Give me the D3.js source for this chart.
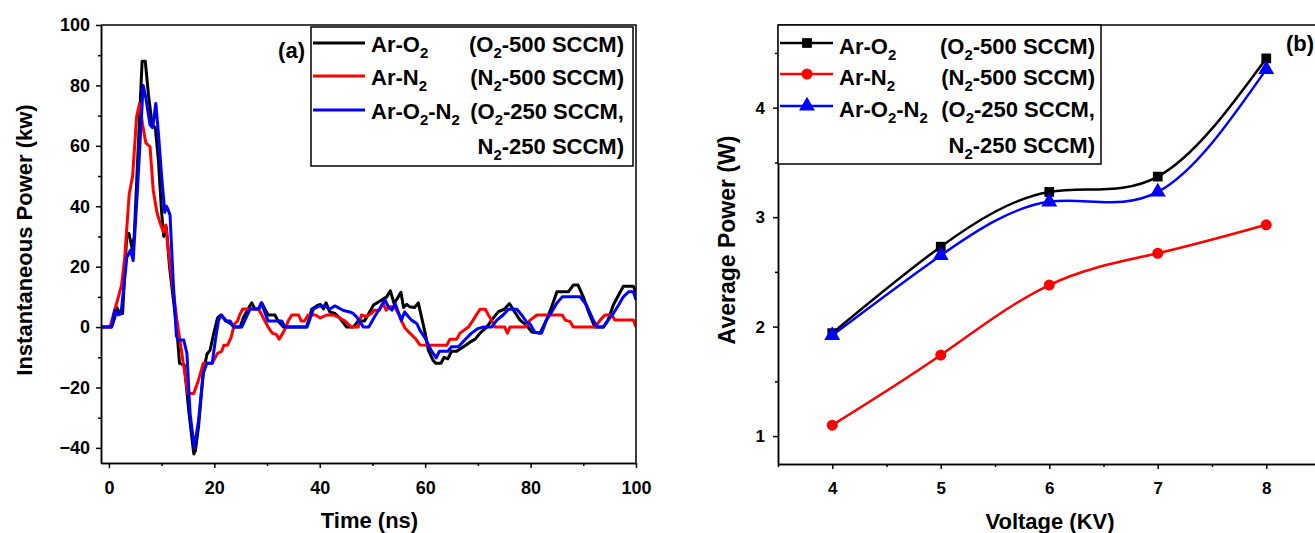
<!DOCTYPE html>
<html>
<head>
<meta charset="utf-8">
<script src="https://cdn.jsdelivr.net/npm/d3@7"></script>
<style>
  body { margin: 0; background: #fff; }
  svg text { font-family: "Liberation Sans", Arial, sans-serif; font-weight: bold; fill: #000; }
</style>
</head>
<body>
<svg id="chart" width="1315" height="533"></svg>
<script>
// ---- data ----
// (a) instantaneous power, [time ns, power kW]
var arO2 = [[-1.5,0],[0.5,0],[1.1,3],[1.5,6.5],[2.1,4.3],[2.6,4.5],[3.4,31],[3.8,31],[4.4,26],[4.8,30],
  [6.3,88],[6.9,88],[7.5,77],[8.2,67],[8.8,66],[9.4,55],[10.0,38],[10.4,30],[10.9,33],[11.5,20],
  [12.9,-1],[13.4,-12],[14.3,-12.5],[15.2,-28.6],[16.1,-42],[16.4,-41],[17.0,-33],[17.9,-15],[18.6,-9],
  [19.2,-7.6],[19.9,-2],[20.6,3],[21.2,4],[21.8,3],[22.3,2],[23.2,1],[24.0,0],[24.9,0],[25.5,3],[26.4,6],
  [27.1,8],[27.7,6],[28.4,6],[29.0,8],[30.2,4],[31.5,4],[32.1,2],[33.1,0],[37.5,0],[38.5,6],[39.4,7],
  [40.1,7.5],[40.7,6],[41.2,8],[41.9,5],[42.9,4.5],[43.8,3],[45.1,0],[46.4,0],[47.3,2],[48.5,2],[50.2,7.3],
  [51.8,9],[52.7,10],[53.4,12],[54.1,7.8],[54.9,10],[55.4,11.5],[55.9,6.5],[56.5,7.5],[57.1,6.7],[58.0,6.5],
  [58.7,8],[59.3,3.4],[60.0,-2],[60.6,-7.6],[61.5,-11],[62.0,-12],[63.0,-12],[63.6,-10],[64.3,-10.5],
  [65.0,-8],[66.0,-8],[67.7,-6],[68.5,-5],[69.5,-4],[70.4,-2],[71.7,0],[72.6,2.3],[73.9,5.1],[75.0,5.9],
  [76.0,7.8],[76.8,5.5],[78.0,2.3],[79.3,0.5],[80.2,-1.6],[81.8,-2],[83.0,2.3],[84.0,6.7],[85.0,11.7],
  [87.2,11.7],[88.1,13.9],[89.0,13.9],[90.0,10],[91.0,5],[92.2,0],[93.8,0],[94.7,2.3],[95.7,7.3],
  [96.7,10.6],[97.6,13.5],[99.5,13.5],[100,11.5]];

var arN2 = [[-1.5,0],[0.2,0],[0.9,4.4],[1.8,10],[2.4,13.9],[3.0,23],[3.85,44],[4.5,50],[5.25,69.6],[5.8,74],
  [6.4,67],[7.0,61],[7.8,59.7],[8.4,45.4],[9.1,38],[9.7,34.5],[10.3,31.6],[10.8,33.8],[11.3,25],[12.9,2.3],
  [14.2,-13],[15.0,-22],[16.1,-22],[17.0,-17.5],[17.9,-12],[19.6,-12],[20.6,-8.7],[21.4,-8],[21.8,-6],
  [22.5,-6],[23.2,-3.3],[23.8,1],[24.4,2],[24.8,4],[25.4,6],[28.4,6],[30.2,0],[31.0,-2],[31.8,-2.5],
  [32.3,-4],[33.0,-2],[33.6,0],[34.0,2],[34.7,4],[36.0,4],[36.5,2],[37.1,2],[37.8,4],[39.2,4],[40.1,3],
  [41.3,4],[42.6,4],[43.8,3],[44.8,2],[46.0,0],[47.3,0],[47.9,4],[48.8,3.5],[49.8,4.5],[50.4,5.6],
  [51.3,5.6],[52.0,7.8],[52.6,5.6],[53.2,6.7],[54.2,6.7],[54.9,4.5],[55.5,2],[56.2,-0.4],[57.1,-2],
  [58.1,-3.7],[59.0,-5.9],[64.1,-6],[64.7,-4],[66.0,-4],[66.6,-2],[68.2,0],[69.1,2.3],[69.7,4],[70.4,5.9],
  [71.4,5.9],[72.0,4],[72.6,2.3],[73.2,0],[75.1,0],[75.6,-2],[76.1,0],[79.0,0],[79.9,2.3],[81.2,4],
  [86.0,4],[86.6,2.3],[87.5,1.8],[88.1,0],[92.2,0],[93.2,2.3],[94.1,4],[95.4,4],[96.0,2.3],[99.5,2.3],[100,0]];

var arO2N2 = [[-1.5,0],[0.5,0],[1.1,5.6],[1.7,4],[2.3,4.5],[3.4,23],[4.1,25.5],[4.6,22],[5.4,45],[6.5,80],
  [7.0,76],[7.8,67],[8.3,66],[8.9,74],[9.4,64],[10.0,50],[10.6,38],[10.9,40],[11.2,39],[11.6,37],[12.2,15],
  [12.8,-3],[13.2,-4.3],[14.2,-4.3],[14.8,-8.7],[15.4,-28.6],[16.2,-40],[17.0,-31],[17.9,-15.3],[18.6,-12],
  [19.6,-12],[20.2,-4.3],[20.8,2.3],[21.4,4],[22.1,2],[23.0,2],[23.6,0],[25.2,0],[26.8,6],[28.4,6],[28.9,8],
  [30.2,2],[32.8,2],[33.4,0],[37.6,0],[38.8,6],[40.0,7],[41.0,7],[41.9,6],[42.9,7],[44.5,5.5],[45.7,5],
  [46.3,4.5],[47.0,3.4],[48.3,0],[49.3,0],[50.4,3.4],[51.8,7.3],[52.4,9],[53.0,6.7],[53.7,5.6],[54.3,7.8],
  [54.9,5],[55.5,2.3],[56.1,5],[56.8,3.5],[57.4,2.3],[58.4,1.2],[59.0,-1],[60.0,-3.7],[61.1,-7.6],
  [62.1,-10.2],[62.7,-8],[64.3,-8],[65.0,-6.5],[66.3,-6.5],[67.5,-4.3],[68.8,-2],[70.0,-0.5],[71.0,0],
  [72.6,0],[73.6,2.3],[74.8,4],[75.8,5.9],[77.4,5.9],[78.3,4],[79.2,1.8],[79.9,1],[80.8,-1.6],[81.5,-2],
  [82.1,-2],[83.0,2.3],[84.0,5],[85.0,8],[86.0,10],[89.4,10],[90.6,7.3],[91.9,2.3],[92.6,0],[93.8,0],
  [94.7,2.3],[95.7,4.5],[96.7,7.3],[97.6,10],[98.6,11.7],[99.5,11.7],[100,9]];

// (b) average power vs voltage
var voltage = [4, 5, 6, 7, 8];
var avgArO2 = [1.94, 2.73, 3.23, 3.37, 4.45];
var avgArN2 = [1.10, 1.74, 2.38, 2.67, 2.93];
var avgArO2N2 = [1.92, 2.65, 3.14, 3.23, 4.35];

var timeTicks = [0, 20, 40, 60, 80, 100];
var timeMinor = [10, 30, 50, 70, 90];
var powerTicks = [-40, -20, 0, 20, 40, 60, 80, 100];
var powerMinor = [-30, -10, 10, 30, 50, 70, 90];
var voltTicks = [4, 5, 6, 7, 8];
var voltMinor = [3.5, 4.5, 5.5, 6.5, 7.5];
var avgTicks = [1, 2, 3, 4];
var avgMinor = [1.5, 2.5, 3.5, 4.5];

var names = ["Ar-O_2", "Ar-N_2", "Ar-O_2-N_2", ""];
var flows = ["(O_2-500 SCCM)", "(N_2-500 SCCM)", "(O_2-250 SCCM,", "N_2-250 SCCM)"];
var colors = ["#000000", "#ff0000", "#0000ff"];

var svg = d3.select("#chart");

// writes "X_2" style labels with subscripts
function richText(sel, str) {
  var parts = str.split(/_(\d)/);
  var shift = 0;
  parts.forEach(function(p, i) {
    if (p === "") return;
    var t = sel.append("tspan").text(p);
    if (i % 2 === 1) {
      t.attr("dy", 6).attr("font-size", "0.68em");
      shift = -6;
    } else if (shift) {
      t.attr("dy", shift);
      shift = 0;
    }
  });
}

function styleAxis(g, fs) {
  g.attr("font-family", null).attr("font-size", fs);
  g.select(".domain").attr("stroke", "#000").attr("stroke-width", 1.5);
  g.selectAll(".tick line").attr("stroke", "#000").attr("stroke-width", 1.5);
  g.selectAll(".tick text").attr("fill", "#000");
}

// ================= panel (a) =================
var ax = {left: 101, right: 636, top: 25, bottom: 463};
var x1 = d3.scaleLinear().domain([-1.5, 100]).range([ax.left, ax.right]);
var y1 = d3.scaleLinear().domain([-45, 100]).range([ax.bottom, ax.top]);

svg.append("clipPath").attr("id", "clipA").append("rect")
  .attr("x", ax.left).attr("y", ax.top).attr("width", ax.right - ax.left).attr("height", ax.bottom - ax.top);

var lineA = d3.line().x(function(d) { return x1(d[0]); }).y(function(d) { return y1(d[1]); });
var gA = svg.append("g").attr("clip-path", "url(#clipA)");
[arO2, arN2, arO2N2].forEach(function(s, i) {
  gA.append("path").datum(s)
    .attr("fill", "none").attr("stroke", colors[i]).attr("stroke-width", 3)
    .attr("stroke-linejoin", "round").attr("d", lineA);
});

svg.append("g").attr("transform", "translate(0," + ax.bottom + ")")
  .call(d3.axisBottom(x1).tickValues(timeMinor).tickSize(3).tickFormat("").tickSizeOuter(0))
  .call(styleAxis, 18);
svg.append("g").attr("transform", "translate(0," + ax.bottom + ")")
  .call(d3.axisBottom(x1).tickValues(timeTicks).tickSize(5).tickPadding(13).tickSizeOuter(0))
  .call(styleAxis, 18);
svg.append("g").attr("transform", "translate(" + ax.left + ",0)")
  .call(d3.axisLeft(y1).tickValues(powerMinor).tickSize(3).tickFormat("").tickSizeOuter(0))
  .call(styleAxis, 18);
svg.append("g").attr("transform", "translate(" + ax.left + ",0)")
  .call(d3.axisLeft(y1).tickValues(powerTicks).tickSize(5).tickPadding(6).tickSizeOuter(0))
  .call(styleAxis, 18);
// top and right frame
svg.append("path").attr("d", "M" + ax.left + "," + ax.top + "H" + ax.right + "V" + ax.bottom)
  .attr("fill", "none").attr("stroke", "#000").attr("stroke-width", 1.5);

svg.append("text").attr("x", (ax.left + ax.right) / 2 + 1).attr("y", 528)
  .attr("text-anchor", "middle").attr("font-size", 22).text("Time (ns)");
svg.append("text").attr("transform", "translate(32,240) rotate(-90)")
  .attr("text-anchor", "middle").attr("font-size", 22).text("Instantaneous Power (kw)");
svg.append("text").attr("x", 305).attr("y", 58).attr("text-anchor", "end")
  .attr("font-size", 22).text("(a)");

// legend (a)
svg.append("rect").attr("x", 311).attr("y", 27).attr("width", 322).attr("height", 139)
  .attr("fill", "#fff").attr("stroke", "#000").attr("stroke-width", 1.5);
var rowsA = [45, 78, 112, 147];
rowsA.forEach(function(yy, i) {
  if (i < 3) {
    svg.append("line").attr("x1", 313).attr("x2", 365).attr("y1", yy - 2).attr("y2", yy - 2)
      .attr("stroke", colors[i]).attr("stroke-width", 3);
  }
  if (names[i]) {
    svg.append("text").attr("x", 371).attr("y", yy + 7).attr("font-size", 22).call(richText, names[i]);
  }
  svg.append("text").attr("x", 624).attr("y", yy + 7).attr("text-anchor", "end")
    .attr("font-size", 22).call(richText, flows[i]);
});

// ================= panel (b) =================
var bx = {left: 778, right: 1320.5, top: 25, bottom: 464};
var x2 = d3.scaleLinear().domain([3.5, 8.5]).range([bx.left, bx.right]);
var y2 = d3.scaleLinear().domain([0.745, 4.755]).range([bx.bottom, bx.top]);

svg.append("g").attr("transform", "translate(0," + bx.bottom + ")")
  .call(d3.axisBottom(x2).tickValues(voltMinor).tickSize(3).tickFormat("").tickSizeOuter(0))
  .call(styleAxis, 17);
svg.append("g").attr("transform", "translate(0," + bx.bottom + ")")
  .call(d3.axisBottom(x2).tickValues(voltTicks).tickSize(5).tickPadding(13).tickSizeOuter(0)
    .tickFormat(d3.format("d")))
  .call(styleAxis, 17);
svg.append("g").attr("transform", "translate(" + bx.left + ",0)")
  .call(d3.axisLeft(y2).tickValues(avgMinor).tickSize(3).tickFormat("").tickSizeOuter(0))
  .call(styleAxis, 17);
svg.append("g").attr("transform", "translate(" + bx.left + ",0)")
  .call(d3.axisLeft(y2).tickValues(avgTicks).tickSize(5).tickPadding(8).tickSizeOuter(0)
    .tickFormat(d3.format("d")))
  .call(styleAxis, 17);
svg.append("path").attr("d", "M" + bx.left + "," + bx.top + "H" + bx.right + "V" + bx.bottom)
  .attr("fill", "none").attr("stroke", "#000").attr("stroke-width", 1.5);

var lineB = d3.line().curve(d3.curveNatural)
  .x(function(d) { return x2(d[0]); }).y(function(d) { return y2(d[1]); });
var sym = [d3.symbolSquare, d3.symbolCircle, d3.symbolTriangle];
var symSize = [95, 95, 110];
[avgArO2, avgArN2, avgArO2N2].forEach(function(vals, i) {
  var pts = voltage.map(function(v, j) { return [v, vals[j]]; });
  svg.append("path").datum(pts).attr("fill", "none").attr("stroke", colors[i])
    .attr("stroke-width", 2.5).attr("d", lineB);
  svg.append("g").selectAll("path").data(pts).join("path")
    .attr("transform", function(d) { return "translate(" + x2(d[0]) + "," + y2(d[1]) + ")"; })
    .attr("d", d3.symbol().type(sym[i]).size(symSize[i]))
    .attr("fill", colors[i]);
});

svg.append("text").attr("x", 1050).attr("y", 529).attr("text-anchor", "middle")
  .attr("font-size", 22).text("Voltage (KV)");
svg.append("text").attr("transform", "translate(735,240) rotate(-90)")
  .attr("text-anchor", "middle").attr("font-size", 23).text("Average Power (W)");
svg.append("text").attr("x", 1286).attr("y", 51).attr("font-size", 22).text("(b)");

// legend (b)
svg.append("rect").attr("x", 778).attr("y", 25).attr("width", 323).attr("height", 139)
  .attr("fill", "#fff").attr("stroke", "#000").attr("stroke-width", 1.5);
var rowsB = [46, 77, 109, 145];
rowsB.forEach(function(yy, i) {
  if (i < 3) {
    svg.append("line").attr("x1", 780).attr("x2", 833).attr("y1", yy - 3).attr("y2", yy - 3)
      .attr("stroke", colors[i]).attr("stroke-width", 2.5);
    svg.append("path").attr("transform", "translate(807," + (yy - 3) + ")")
      .attr("d", d3.symbol().type(sym[i]).size(symSize[i])).attr("fill", colors[i]);
  }
  if (names[i]) {
    svg.append("text").attr("x", 839).attr("y", yy + 8).attr("font-size", 22).call(richText, names[i]);
  }
  svg.append("text").attr("x", 1095).attr("y", yy + 8).attr("text-anchor", "end")
    .attr("font-size", 22).call(richText, flows[i]);
});
</script>
</body>
</html>
